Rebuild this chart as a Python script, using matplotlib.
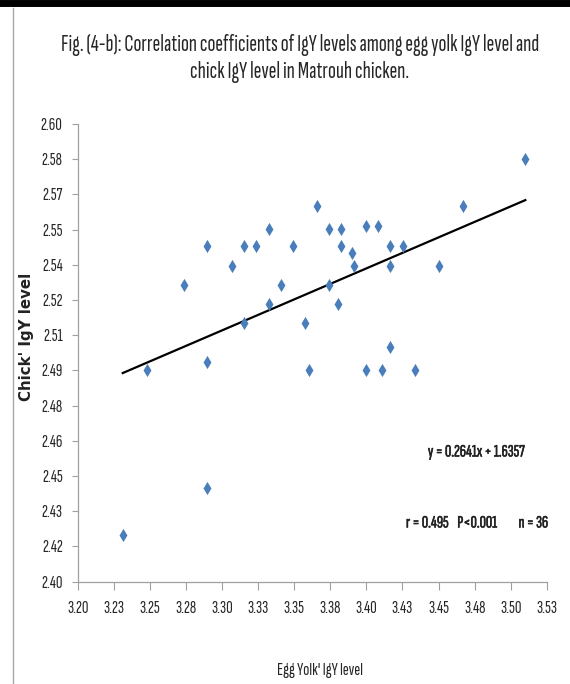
import numpy as np
import matplotlib
matplotlib.use("Agg")
import matplotlib.pyplot as plt
import matplotlib.patheffects as pe
from matplotlib import font_manager
from matplotlib.lines import Line2D

# egg yolk IgY (x) and chick IgY (y)
egg_yolk = [3.2479, 3.2733, 3.2897, 3.2897, 3.3068, 3.3153, 3.3153, 3.3237,
            3.3322, 3.3322, 3.3405, 3.3491, 3.3577, 3.3604, 3.3660, 3.3743,
            3.3743, 3.3803, 3.3826, 3.3826, 3.3902, 3.3912, 3.3997, 3.4083,
            3.4166, 3.4252, 3.4166, 3.4506, 3.4670, 3.5102, 3.4166, 3.3997,
            3.4106, 3.4337, 3.2897, 3.2310]
chick = [2.4925, 2.5298, 2.5469, 2.4962, 2.5381, 2.5469, 2.5129, 2.5469,
         2.5540, 2.5214, 2.5298, 2.5469, 2.5129, 2.4925, 2.5642, 2.5540,
         2.5298, 2.5214, 2.5540, 2.5469, 2.5437, 2.5381, 2.5553, 2.5553,
         2.5469, 2.5469, 2.5381, 2.5381, 2.5642, 2.5848, 2.5026, 2.4925,
         2.4925, 2.4925, 2.4410, 2.4204]

x_ticks = np.linspace(3.20, 3.525, 14)
y_ticks = np.linspace(2.40, 2.60, 14)

names = {f.name for f in font_manager.fontManager.ttflist}
narrow = "Liberation Sans"
for cand in ["Sofia Sans Extra Condensed", "Saira ExtraCondensed", "Fira Sans Extra Condensed", "PT Sans Narrow"]:
    if cand in names:
        narrow = cand
        break

fig = plt.figure(figsize=(5.7, 6.84), dpi=100)
W, H = 570, 684
ax = fig.add_axes([78 / W, 1 - 581.7 / H, (546.7 - 78) / W, (581.7 - 124) / H])

ax.scatter(egg_yolk, chick, marker="d", s=45, color="#4a7ebb", linewidths=0, zorder=3)

# linear trend line over the data range
slope, icpt = np.polyfit(egg_yolk, chick, 1)
xl = np.array([min(egg_yolk), max(egg_yolk)])
ax.plot(xl, slope * xl + icpt, color="black", lw=1.6, zorder=2)

ax.set_xlim(3.20, 3.525)
ax.set_ylim(2.40, 2.60)
ax.set_xticks(x_ticks)
ax.set_yticks(y_ticks)
ax.set_xticklabels(["%.2f" % (v + 1e-9) for v in x_ticks], family=narrow, fontsize=13, color="#262626")
ax.set_yticklabels(["%.2f" % (v + 1e-9) for v in y_ticks], family=narrow, fontsize=13, color="#262626")
ax.tick_params(axis="x", direction="out", length=6, width=0.8, color="#a0a0a0", pad=8)
ax.tick_params(axis="y", direction="out", length=4, width=0.8, color="#a0a0a0", pad=7)

for s in ["top", "right"]:
    ax.spines[s].set_visible(False)
for s in ["left", "bottom"]:
    ax.spines[s].set_color("#a0a0a0")
    ax.spines[s].set_linewidth(0.9)

fig.text(300 / W, 1 - 45 / H, "Fig. (4-b): Correlation coefficients of IgY levels among egg yolk IgY level and",
         ha="center", va="center", family=narrow, fontsize=16.8, color="#262626")
fig.text(300 / W, 1 - 72 / H, "chick IgY level in Matrouh chicken.",
         ha="center", va="center", family=narrow, fontsize=16.8, color="#262626")

fig.text(26 / W, 1 - 337 / H, "Chick' IgY level", rotation=90, ha="center", va="center",
         family="DejaVu Sans", fontweight="bold", fontsize=10.8, color="#222222")
fig.text(320 / W, 1 - 670 / H, "Egg Yolk' IgY level", ha="center", va="center",
         family=narrow, fontsize=13, color="#262626")

# fake bold on the variable font with a thin stroke
bold = [pe.withStroke(linewidth=0.4, foreground="#222222")]
fig.text(476 / W, 1 - 452 / H, "y = 0.2641x + 1.6357", ha="center", va="center",
         family=narrow, fontsize=12.5, color="#222222", path_effects=bold)
fig.text(406 / W, 1 - 523 / H, "r = 0.495    P<0.001", ha="left", va="center",
         family=narrow, fontsize=12.5, color="#222222", path_effects=bold)
fig.text(548 / W, 1 - 523 / H, "n = 36", ha="right", va="center",
         family=narrow, fontsize=12.5, color="#222222", path_effects=bold)

# page decorations: black rule at the top and gray frame line at the left
fig.add_artist(Line2D([0, 1], [1 - 3 / H, 1 - 3 / H], color="black", lw=5, transform=fig.transFigure))
fig.add_artist(Line2D([12.5 / W, 12.5 / W], [0, 1 - 8 / H], color="#a8a8a8", lw=1, transform=fig.transFigure))

fig.savefig("out.png", dpi=100)
